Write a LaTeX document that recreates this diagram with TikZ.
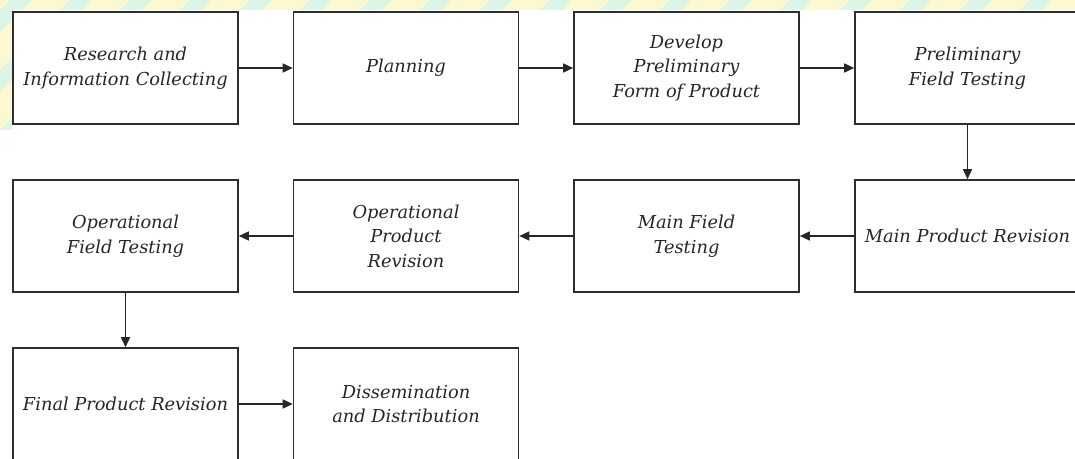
\documentclass[tikz,border=0pt]{standalone}
\usepackage{fontspec}
\setmainfont{DejaVu Serif}
\usetikzlibrary{arrows.meta}
\definecolor{ink}{HTML}{262626}
\definecolor{boxline}{HTML}{2E2E2E}
\definecolor{tintyellow}{HTML}{FCF8D2}
\definecolor{tintmint}{HTML}{DDF5E6}
\begin{document}
\begin{tikzpicture}[x=1pt,y=-1pt,
  stepbox/.style={draw=boxline, line width=1.6pt, fill=white,
    minimum width=225pt, minimum height=112pt, inner sep=0pt,
    align=center, text=ink,
    font=\itshape\fontsize{17.8}{24.5}\selectfont},
  flow/.style={draw=ink, line width=1.5pt,
    -{Triangle[length=10pt,width=9pt]}}]
\useasboundingbox (0,0) rectangle (1075,458);
\clip (0,0) rectangle (1075,458);

% pale tinted band along the top and left edges
\begin{scope}
  \clip (0,0) rectangle (1075,10) (0,0) rectangle (12,130);
  \fill[tintyellow] (0,0) rectangle (1075,130);
  \foreach \s in {-120,-60,...,1100}
    \fill[tintmint] (\s,130) -- (\s+22,130) -- (\s+152,0) -- (\s+130,0) -- cycle;
\end{scope}

% row 1
\node[stepbox] (research) at (125.5,68) {Research and\\Information Collecting};
\node[stepbox] (planning) at (406,68) {Planning};
\node[stepbox] (develop)  at (686.5,68) {Develop\\Preliminary\\Form of Product};
\node[stepbox] (prelim)   at (967.5,68) {Preliminary\\Field Testing};
% row 2
\node[stepbox] (mainrev)  at (967.5,236) {Main Product Revision};
\node[stepbox] (mainfield) at (686.5,236) {Main Field\\Testing};
\node[stepbox] (oprev)    at (406,236) {Operational\\Product\\Revision};
\node[stepbox] (opfield)  at (125.5,236) {Operational\\Field Testing};
% row 3
\node[stepbox] (finalrev) at (125.5,404) {Final Product Revision};
\node[stepbox] (dissem)   at (406,404) {Dissemination\\and Distribution};

% connectors
\draw[flow] (research) -- (planning);
\draw[flow] (planning) -- (develop);
\draw[flow] (develop) -- (prelim);
\draw[flow] (prelim) -- (mainrev);
\draw[flow] (mainrev) -- (mainfield);
\draw[flow] (mainfield) -- (oprev);
\draw[flow] (oprev) -- (opfield);
\draw[flow] (opfield) -- (finalrev);
\draw[flow] (finalrev) -- (dissem);
\end{tikzpicture}
\end{document}
